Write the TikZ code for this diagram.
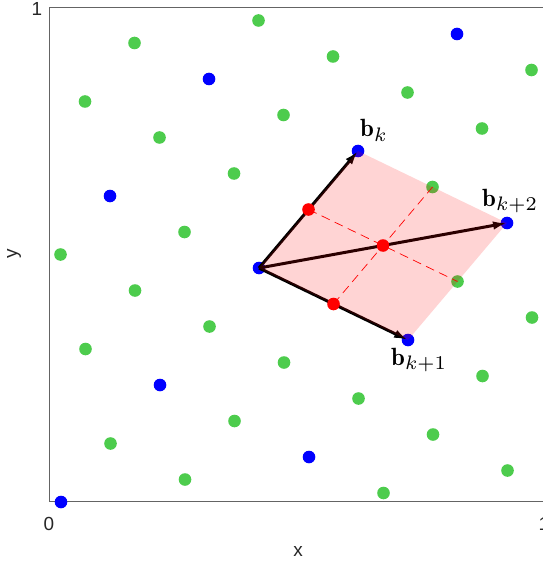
\documentclass[tikz,border=0pt]{standalone}
\usepackage{fontspec}
\newfontfamily\axfont{Liberation Sans}
\usetikzlibrary{arrows.meta}
\definecolor{ptgreen}{RGB}{77,204,77}
\definecolor{axgray}{RGB}{100,100,100}
\tikzset{
  gdot/.style={fill=ptgreen},
  bdot/.style={fill=blue},
  rdot/.style={fill=red},
  vec/.style={line width=3bp, draw=black, -{Latex[length=14bp,width=8.5bp]}},
  midline/.style={draw=red, line width=0.7bp, dash pattern=on 9bp off 5.5bp},
  axline/.style={draw=axgray, line width=1bp},
  ticklab/.style={font=\axfont\fontsize{19}{20}\selectfont, text=black!85},
  veclab/.style={inner sep=0pt}
}
\newcommand{\veclabel}[1]{\scalebox{2.5}{$\mathbf{b}_{\scalebox{1.12}{$\scriptstyle #1$}}$}}
\begin{document}
\begin{tikzpicture}[x=1bp,y=-1bp]
\useasboundingbox (0,0) rectangle (543,567);
% axes
\draw[axline] (49.5,7.5) -- (49.5,501.5) -- (560,501.5);
\draw[axline] (49.5,7.5) -- (560,7.5);
\draw[axline] (49.5,501.5) -- (49.5,496.5);
\draw[axline] (543.5,501.5) -- (543.5,496.5);
\draw[axline] (543.5,7.5) -- (543.5,12.5);
\node[ticklab] (t0) at (49,524) {0};
\node[ticklab] (t1x) at (544,524) {1};
\node[ticklab] (t1y) at (37,9) {1};
\node[ticklab] (xl) at (298,551) {x};
\node[ticklab, rotate=90] (yl) at (14,254) {y};
% lattice points
\foreach \a/\b in {-3/0,-1/0,3/0,-3/1,-2/1,-1/1,2/1,3/1,4/1,-1/2,1/2,-2/3,-1/3,0/3,1/3,-1/4,-2/-1,-1/-1,0/-1,1/-1,2/-1,3/-1,-1/-2,1/-2,3/-2,1/-3,2/-3}
  \fill[gdot] ({259+49.5*\a+74.5*\b},{268-58.5*\a+36*\b}) circle[radius=6.3bp];
\foreach \a/\b in {-4/0,-2/0,0/0,2/0,4/0,-2/2,0/2,2/2,0/-2,2/-2}
  \fill[bdot] ({259+49.5*\a+74.5*\b},{268-58.5*\a+36*\b}) circle[radius=6.3bp];
% named corners
\coordinate (O) at (259,268);
\coordinate (bk) at (358,151);
\coordinate (bk1) at (408,340);
\coordinate (bk2) at (507,223);
\coordinate (m1) at (308.5,209.5);
\coordinate (m2) at (333.5,304);
\coordinate (m3) at (432.5,187);
\coordinate (m4) at (457.5,281.5);
\coordinate (c) at (383,245.5);
% vectors
\draw[vec] (O) -- (bk);
\draw[vec] (O) -- (bk1);
\draw[vec] (O) -- (bk2);
% cell
\fill[red, opacity=0.17] (O) -- (bk) -- (bk2) -- (bk1) -- cycle;
% dashed midlines
\draw[midline] (m1) -- (m4);
\draw[midline] (m2) -- (m3);
% red points
\fill[rdot] (m1) circle[radius=6.3bp];
\fill[rdot] (m2) circle[radius=6.3bp];
\fill[rdot] (c) circle[radius=6.3bp];
% labels
\node[veclab, anchor=base west] (lk) at (360,137) {\veclabel{k}};
\node[veclab, anchor=base west] (lk1) at (391,365) {\veclabel{k+1}};
\node[veclab, anchor=base west] (lk2) at (482,206) {\veclabel{k+2}};
\end{tikzpicture}
\end{document}
